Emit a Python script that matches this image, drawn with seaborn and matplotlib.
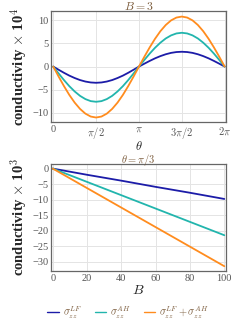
import numpy as np
import pandas as pd
import seaborn as sns
import matplotlib.pyplot as plt

# data
theta_steps = list(range(33))  # theta = k * pi/16
blue_theta = [0, -0.68, -1.34, -1.95, -2.47, -2.91, -3.23, -3.43, -3.5, -3.43, -3.23, -2.91, -2.47, -1.95, -1.34, -0.68,
              0, 0.62, 1.22, 1.78, 2.26, 2.66, 2.96, 3.14, 3.2, 3.14, 2.96, 2.66, 2.26, 1.78, 1.22, 0.62, 0]
teal_theta = [0, -1.48, -2.91, -4.23, -5.37, -6.32, -7.02, -7.46, -7.6, -7.46, -7.02, -6.32, -5.37, -4.23, -2.91, -1.48,
              0, 1.42, 2.80, 4.06, 5.16, 6.07, 6.74, 7.16, 7.3, 7.16, 6.74, 6.07, 5.16, 4.06, 2.80, 1.42, 0]
orange_theta = [0, -2.15, -4.21, -6.12, -7.78, -9.14, -10.16, -10.79, -11.0, -10.79, -10.16, -9.14, -7.78, -6.12, -4.21, -2.15,
                0, 2.11, 4.13, 6.00, 7.64, 8.98, 9.98, 10.59, 10.8, 10.59, 9.98, 8.98, 7.64, 6.00, 4.13, 2.11, 0]

B_vals = [0, 20, 40, 60, 80, 100]
blue_B = [0, -2.0, -3.9, -5.9, -7.8, -9.8]
teal_B = [0, -4.3, -8.6, -12.9, -17.2, -21.5]
orange_B = [0, -6.3, -12.6, -18.9, -25.2, -31.5]

labels = [r'$\sigma_{zz}^{LF}$', r'$\sigma_{zz}^{AH}$', r'$\sigma_{zz}^{LF}+\sigma_{zz}^{AH}$']
colors = ['#1c1ca8', '#22b5ad', '#ff8c1e']
theta_ticklabels = ['0', r'$\pi/2$', r'$\pi$', r'$3\pi/2$', r'$2\pi$']

sns.set_style('white')
plt.rcParams['font.family'] = ['Liberation Serif', 'DejaVu Serif']
plt.rcParams['mathtext.fontset'] = 'cm'

theta = [k * np.pi / 16 for k in theta_steps]
df1 = pd.DataFrame({'theta': theta * 3,
                    'val': blue_theta + teal_theta + orange_theta,
                    'series': [labels[0]] * 33 + [labels[1]] * 33 + [labels[2]] * 33})
df2 = pd.DataFrame({'B': B_vals * 3,
                    'val': blue_B + teal_B + orange_B,
                    'series': [labels[0]] * 6 + [labels[1]] * 6 + [labels[2]] * 6})

fig = plt.figure(figsize=(2.42, 3.24), dpi=100)
ax1 = fig.add_axes([0.211, 0.623, 0.723, 0.343])
ax2 = fig.add_axes([0.211, 0.164, 0.723, 0.330])

pal = dict(zip(labels, colors))
sns.lineplot(data=df1, x='theta', y='val', hue='series', palette=pal, ax=ax1, lw=1.3, legend=False)
sns.lineplot(data=df2, x='B', y='val', hue='series', palette=pal, ax=ax2, lw=1.3, legend=False)

brown = '#7a5a3a'
tickgray = '#555555'
for ax in (ax1, ax2):
    for s in ax.spines.values():
        s.set_color('#666666')
        s.set_linewidth(0.9)
    ax.grid(True, color='#e4e4e4', lw=0.7)
    ax.set_axisbelow(True)
    ax.tick_params(labelsize=7.5, colors=tickgray, length=2.5, width=0.6, direction='in', pad=2)
    ax.minorticks_on()
    ax.tick_params(which='minor', length=1.5, width=0.5, direction='in', colors=tickgray)
    ax.grid(False, which='minor')

ax1.set_xlim(-0.08, 2 * np.pi + 0.05)
ax1.set_ylim(-12, 12)
ax1.set_xticks([0, np.pi / 2, np.pi, 3 * np.pi / 2, 2 * np.pi])
ax1.set_xticklabels(theta_ticklabels)
ax1.set_yticks([-10, -5, 0, 5, 10])
ax1.set_yticklabels(['\u221210', '\u22125', '0', '5', '10'])
ax1.set_xlabel(r'$\theta$', fontsize=9, labelpad=-1)
ax1.set_ylabel(r'conductivity $\times$ 10$^4$', fontsize=10.5, fontweight='bold', labelpad=2)
ax1.set_title(r'$B=3$', fontsize=8.5, color=brown, pad=1)

ax2.set_xlim(-1, 101)
ax2.set_ylim(-33, 1.5)
ax2.set_xticks([0, 20, 40, 60, 80, 100])
ax2.set_yticks([0, -5, -10, -15, -20, -25, -30])
ax2.set_yticklabels(['0', '\u22125', '\u221210', '\u221215', '\u221220', '\u221225', '\u221230'])
ax2.set_xlabel(r'$B$', fontsize=10, labelpad=1)
ax2.set_ylabel(r'conductivity $\times$ 10$^3$', fontsize=10.5, fontweight='bold', labelpad=2)
ax2.set_title(r'$\theta=\pi/3$', fontsize=7.5, color=brown, pad=0.5)

handles = [plt.Line2D([], [], color=c, lw=1.0) for c in colors]
leg = fig.legend(handles, labels, loc='center', bbox_to_anchor=(0.53, 0.035), ncol=3, frameon=False,
                 fontsize=7.5, handlelength=1.1, handletextpad=0.4, columnspacing=1.2)
for t in leg.get_texts():
    t.set_color(brown)

fig.savefig('out.png', dpi=100)
